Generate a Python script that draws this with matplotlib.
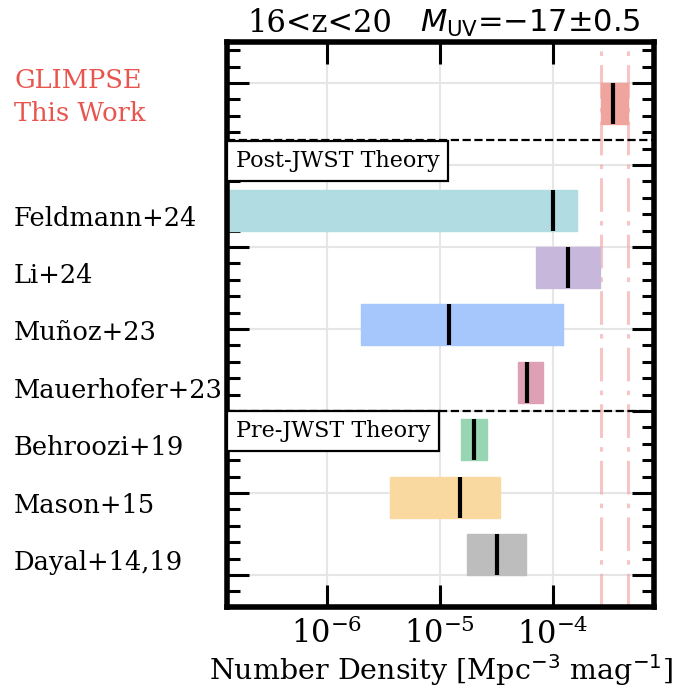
import numpy as np
import matplotlib.pyplot as plt
from matplotlib.ticker import MultipleLocator, NullLocator
import matplotlib.transforms as mtransforms

plt.rcParams['font.family'] = 'serif'
plt.rcParams['font.serif'] = ['DejaVu Serif']

# model predictions for the number density (Mpc^-3 mag^-1)
labels = ['Feldmann+24', 'Li+24', 'Muñoz+23', 'Mauerhofer+23',
          'Behroozi+19', 'Mason+15', 'Dayal+14,19']
lo = [1.3e-7, 7.1e-5, 2.0e-6, 4.9e-5, 1.55e-5, 3.6e-6, 1.75e-5]
hi = [1.63e-4, 2.6e-4, 1.23e-4, 8.2e-5, 2.6e-5, 3.4e-5, 5.8e-5]
med = [1.0e-4, 1.37e-4, 1.2e-5, 5.9e-5, 2.0e-5, 1.5e-5, 3.2e-5]
colors = ['#B1DDE2', '#C7B8DB', '#A6C7FB', '#DDA0B4',
          '#98D5B3', '#F9D9A0', '#BDBDBD']

# GLIMPSE measurement
obs_lo, obs_hi, obs_med = 2.7e-4, 4.65e-4, 3.45e-4
obs_color = '#F0A49E'

ypos = 4.45 - 0.7 * np.arange(len(labels))
y_obs = 5.75
h = 0.5

fig = plt.figure(figsize=(6.85, 6.89), dpi=100)
ax = fig.add_axes([227 / 685, 1 - 607 / 689, 427 / 685, 565 / 689])
ax.set_axisbelow(True)

for y, l, u, m, c in zip(ypos, lo, hi, med, colors):
    ax.barh(y, u - l, left=l, height=h, color=c, edgecolor=c, lw=1)
    ax.vlines(m, y - h / 2, y + h / 2, color='k', lw=3)

ax.barh(y_obs, obs_hi - obs_lo, left=obs_lo, height=h, color=obs_color,
        edgecolor=obs_color, lw=1)
ax.vlines(obs_med, y_obs - h / 2, y_obs + h / 2, color='k', lw=3)
for xv in (obs_lo, obs_hi):
    ax.axvline(xv, color='#F4A6A6', ls=(0, (11, 3, 1.5, 3)), lw=2.2,
               alpha=0.65, zorder=0.8)

ax.axhline(5.3, color='k', ls='--', lw=1.6)
ax.axhline(2.0, color='k', ls='--', lw=1.6)

box = dict(boxstyle='square,pad=0.4', facecolor='white', edgecolor='k', lw=1.6)
ax.text(1.55e-7, 5.05, 'Post-JWST Theory', fontsize=16, va='center',
        ha='left', bbox=box, zorder=5)
ax.text(1.55e-7, 1.76, 'Pre-JWST Theory', fontsize=16, va='center',
        ha='left', bbox=box, zorder=5)

trans = mtransforms.blended_transform_factory(fig.transFigure, ax.transData)
for y, lab in zip(ypos, labels):
    ax.text(14 / 685, y - 0.19, lab, transform=trans, fontsize=18.5,
            va='baseline', ha='left')
ax.text(14 / 685, y_obs + 0.19, 'GLIMPSE', transform=trans, fontsize=18.5,
        va='baseline', ha='left', color='#E8554E')
ax.text(14 / 685, y_obs - 0.21, 'This Work', transform=trans, fontsize=18.5,
        va='baseline', ha='left', color='#E8554E')

ax.set_xscale('log')
ax.set_xlim(1.3e-7, 7.9e-4)
ax.set_ylim(-0.39, 6.5)
ax.xaxis.set_minor_locator(NullLocator())
ax.yaxis.set_major_locator(MultipleLocator(1))
ax.yaxis.set_minor_locator(MultipleLocator(0.2))
ax.set_yticklabels([])
ax.tick_params(axis='both', which='both', direction='in', top=True, right=True)
ax.tick_params(which='major', length=16, width=2.2, labelsize=22, pad=8)
ax.tick_params(which='minor', length=9, width=2.2)
ax.grid(True, which='major', color='#E6E6E6', lw=1.5)
for s in ax.spines.values():
    s.set_linewidth(4)

ax.set_xlabel('Number Density [Mpc$^{-3}$ mag$^{-1}$]', fontsize=20.5, labelpad=1)

# title in two pieces: redshift range and magnitude bin
fig.text(247 / 685, 1 - 32 / 689, '16<z<20', fontsize=22, va='baseline')
fig.text(420 / 685, 1 - 32 / 689, '$M_{\\rm UV}$=\u221217±0.5', fontsize=22,
         va='baseline', family='DejaVu Sans')

fig.savefig('out.png', dpi=100)
